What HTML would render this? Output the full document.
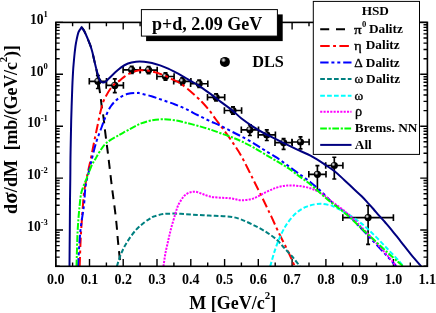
<!DOCTYPE html>
<html><head><meta charset="utf-8"><title>chart</title>
<style>
html,body{margin:0;padding:0;background:#fff;}
body{width:436px;height:313px;position:relative;overflow:hidden;font-family:"Liberation Serif",serif;font-weight:bold;color:#000;}
.t{position:absolute;white-space:nowrap;line-height:1;}
.c{transform:translateX(-50%);}
.sup{font-size:8.6px;position:relative;top:-6.6px;left:0px;}
.sup2{font-size:10.8px;position:relative;top:-10px;}
.sup3{font-size:8.5px;position:relative;top:-5.5px;}
.g{font-weight:bold;}
</style></head><body>
<svg width="436" height="313" viewBox="0 0 436 313" style="position:absolute;left:0;top:0">
<defs><clipPath id="cp"><rect x="55.8" y="22.4" width="371.6" height="243.9"/></clipPath>
<radialGradient id="ball" cx="0.36" cy="0.32" r="0.6"><stop offset="0" stop-color="#f4f4f4"/><stop offset="0.14" stop-color="#b8b8b8"/><stop offset="0.42" stop-color="#000"/><stop offset="1" stop-color="#000"/></radialGradient><radialGradient id="ball2" cx="0.36" cy="0.34" r="0.5"><stop offset="0" stop-color="#eee"/><stop offset="0.22" stop-color="#aaa"/><stop offset="0.55" stop-color="#000"/><stop offset="1" stop-color="#000"/></radialGradient></defs>
<rect x="0" y="0" width="436" height="313" fill="#fff"/>
<path d="M55.7 266.3v-7.2M55.7 22.4v7.2M72.6 266.3v-3.9M72.6 22.4v3.9M89.5 266.3v-7.2M89.5 22.4v7.2M106.4 266.3v-3.9M106.4 22.4v3.9M123.2 266.3v-7.2M123.2 22.4v7.2M140.1 266.3v-3.9M140.1 22.4v3.9M157.0 266.3v-7.2M157.0 22.4v7.2M173.9 266.3v-3.9M173.9 22.4v3.9M190.8 266.3v-7.2M190.8 22.4v7.2M207.7 266.3v-3.9M207.7 22.4v3.9M224.6 266.3v-7.2M224.6 22.4v7.2M241.4 266.3v-3.9M241.4 22.4v3.9M258.3 266.3v-7.2M258.3 22.4v7.2M275.2 266.3v-3.9M275.2 22.4v3.9M292.1 266.3v-7.2M292.1 22.4v7.2M309.0 266.3v-3.9M309.0 22.4v3.9M325.9 266.3v-7.2M325.9 22.4v7.2M342.7 266.3v-3.9M342.7 22.4v3.9M359.6 266.3v-7.2M359.6 22.4v7.2M376.5 266.3v-3.9M376.5 22.4v3.9M393.4 266.3v-7.2M393.4 22.4v7.2M410.3 266.3v-3.9M410.3 22.4v3.9M427.2 266.3v-7.2M427.2 22.4v7.2M55.8 266.3h3.9M427.4 266.3h-3.9M55.8 257.1h3.9M427.4 257.1h-3.9M55.8 250.7h3.9M427.4 250.7h-3.9M55.8 245.6h3.9M427.4 245.6h-3.9M55.8 241.5h3.9M427.4 241.5h-3.9M55.8 238.0h3.9M427.4 238.0h-3.9M55.8 235.0h3.9M427.4 235.0h-3.9M55.8 232.4h3.9M427.4 232.4h-3.9M55.8 230.0h7.2M427.4 230.0h-7.2M55.8 214.4h3.9M427.4 214.4h-3.9M55.8 205.2h3.9M427.4 205.2h-3.9M55.8 198.8h3.9M427.4 198.8h-3.9M55.8 193.7h3.9M427.4 193.7h-3.9M55.8 189.6h3.9M427.4 189.6h-3.9M55.8 186.1h3.9M427.4 186.1h-3.9M55.8 183.1h3.9M427.4 183.1h-3.9M55.8 180.5h3.9M427.4 180.5h-3.9M55.8 178.1h7.2M427.4 178.1h-7.2M55.8 162.5h3.9M427.4 162.5h-3.9M55.8 153.3h3.9M427.4 153.3h-3.9M55.8 146.9h3.9M427.4 146.9h-3.9M55.8 141.8h3.9M427.4 141.8h-3.9M55.8 137.7h3.9M427.4 137.7h-3.9M55.8 134.2h3.9M427.4 134.2h-3.9M55.8 131.2h3.9M427.4 131.2h-3.9M55.8 128.6h3.9M427.4 128.6h-3.9M55.8 126.2h7.2M427.4 126.2h-7.2M55.8 110.6h3.9M427.4 110.6h-3.9M55.8 101.4h3.9M427.4 101.4h-3.9M55.8 95.0h3.9M427.4 95.0h-3.9M55.8 89.9h3.9M427.4 89.9h-3.9M55.8 85.8h3.9M427.4 85.8h-3.9M55.8 82.3h3.9M427.4 82.3h-3.9M55.8 79.3h3.9M427.4 79.3h-3.9M55.8 76.7h3.9M427.4 76.7h-3.9M55.8 74.3h7.2M427.4 74.3h-7.2M55.8 58.7h3.9M427.4 58.7h-3.9M55.8 49.5h3.9M427.4 49.5h-3.9M55.8 43.1h3.9M427.4 43.1h-3.9M55.8 38.0h3.9M427.4 38.0h-3.9M55.8 33.9h3.9M427.4 33.9h-3.9M55.8 30.4h3.9M427.4 30.4h-3.9M55.8 27.4h3.9M427.4 27.4h-3.9M55.8 24.8h3.9M427.4 24.8h-3.9M55.8 22.4h7.2M427.4 22.4h-7.2" stroke="#000" stroke-width="1.4" fill="none"/>
<g clip-path="url(#cp)">
<path d="M89.3 81.3H106.5M89.3 78.0v6.6M106.5 78.0v6.6M97.9 75.5V88.5M95.9 75.5h4M95.9 88.5h4M106.2 85.4H123.4M106.2 82.1v6.6M123.4 82.1v6.6M114.8 78.9V92.6M112.8 78.9h4M112.8 92.6h4M123.1 69.9H140.3M123.1 66.6v6.6M140.3 66.6v6.6M131.7 66.3V73.5M129.7 66.3h4M129.7 73.5h4M140.0 70.1H157.2M140.0 66.8v6.6M157.2 66.8v6.6M148.6 66.5V73.7M146.6 66.5h4M146.6 73.7h4M156.9 76.5H174.1M156.9 73.2v6.6M174.1 73.2v6.6M165.5 72.9V80.1M163.5 72.9h4M163.5 80.1h4M173.7 81.3H190.9M173.7 78.0v6.6M190.9 78.0v6.6M182.3 77.7V84.9M180.3 77.7h4M180.3 84.9h4M190.6 83.7H207.8M190.6 80.4v6.6M207.8 80.4v6.6M199.2 80.1V87.3M197.2 80.1h4M197.2 87.3h4M207.5 97.3H224.7M207.5 94.0v6.6M224.7 94.0v6.6M216.1 93.7V100.9M214.1 93.7h4M214.1 100.9h4M224.4 110.5H241.6M224.4 107.2v6.6M241.6 107.2v6.6M233.0 106.9V114.1M231.0 106.9h4M231.0 114.1h4M241.3 129.8H258.5M241.3 126.5v6.6M258.5 126.5v6.6M249.9 124.8V135.5M247.9 124.8h4M247.9 135.5h4M258.2 134.9H275.4M258.2 131.6v6.6M275.4 131.6v6.6M266.8 129.8V140.5M264.8 129.8h4M264.8 140.5h4M275.0 142.6H292.2M275.0 139.3v6.6M292.2 139.3v6.6M283.6 138.5V149.3M281.6 138.5h4M281.6 149.3h4M291.9 142.0H309.1M291.9 138.7v6.6M309.1 138.7v6.6M300.5 136.9V148.9M298.5 136.9h4M298.5 148.9h4M308.8 174.3H326.0M308.8 171.0v6.6M326.0 171.0v6.6M317.4 165.6V190.0M315.4 165.6h4M315.4 190.0h4M325.7 165.5H342.9M325.7 162.2v6.6M342.9 162.2v6.6M334.3 157.2V179.0M332.3 157.2h4M332.3 179.0h4M342.8 217.6H393.4M342.8 214.3v6.6M393.4 214.3v6.6M368.1 205.5V244.3M366.1 205.5h4M366.1 244.3h4" stroke="#000" stroke-width="1.65" fill="none"/>
<circle cx="97.9" cy="81.3" r="3.6" fill="url(#ball2)"/>
<circle cx="114.8" cy="85.4" r="3.6" fill="url(#ball2)"/>
<circle cx="131.7" cy="69.9" r="3.6" fill="url(#ball2)"/>
<circle cx="148.6" cy="70.1" r="3.6" fill="url(#ball2)"/>
<circle cx="165.5" cy="76.5" r="3.6" fill="url(#ball2)"/>
<circle cx="182.3" cy="81.3" r="3.6" fill="url(#ball2)"/>
<circle cx="199.2" cy="83.7" r="3.6" fill="url(#ball2)"/>
<circle cx="216.1" cy="97.3" r="3.6" fill="url(#ball2)"/>
<circle cx="233.0" cy="110.5" r="3.6" fill="url(#ball2)"/>
<circle cx="249.9" cy="129.8" r="3.6" fill="url(#ball2)"/>
<circle cx="266.8" cy="134.9" r="3.6" fill="url(#ball2)"/>
<circle cx="283.6" cy="142.6" r="3.6" fill="url(#ball2)"/>
<circle cx="300.5" cy="142.0" r="3.6" fill="url(#ball2)"/>
<circle cx="317.4" cy="174.3" r="3.6" fill="url(#ball2)"/>
<circle cx="334.3" cy="165.5" r="3.6" fill="url(#ball2)"/>
<circle cx="368.1" cy="217.6" r="3.6" fill="url(#ball2)"/>
<path d="M81.4 26.8 C81.8 27.4 83.2 29.0 84.0 30.5 C84.8 32.0 85.6 34.0 86.4 35.7 C87.2 37.5 87.9 39.1 88.6 41.0 C89.3 42.9 90.2 44.9 90.8 46.8 C91.4 48.7 91.9 50.4 92.4 52.3 C92.9 54.2 93.3 56.2 93.7 58.0 C94.1 59.8 94.5 61.4 94.9 63.2 C95.3 65.0 95.8 66.6 96.2 68.6 C96.6 70.6 97.0 72.8 97.4 75.0 C97.8 77.2 98.1 79.5 98.5 82.0 C98.9 84.5 99.2 87.3 99.6 90.0 C100.0 92.7 100.3 95.2 100.7 98.0 C101.1 100.8 101.4 104.3 101.8 107.0 C102.2 109.7 102.6 111.6 103.0 114.0 C103.4 116.4 103.7 119.2 104.0 121.5 C104.3 123.8 104.1 123.2 104.7 128.0 C105.3 132.8 106.5 142.2 107.5 150.0 C108.5 157.8 109.7 168.3 110.5 175.0 C111.3 181.7 111.7 185.3 112.3 190.0 C112.9 194.7 113.4 197.9 114.1 203.4 C114.8 208.9 115.8 216.7 116.4 223.0 C117.1 229.3 117.4 235.3 118.0 241.4 C118.6 247.5 119.5 255.7 119.9 259.8 C120.3 263.9 120.4 265.2 120.5 266.3" stroke="#000" stroke-width="2.0" fill="none" stroke-linejoin="miter" stroke-miterlimit="6" stroke-linecap="butt" stroke-dasharray="9 6.3" stroke-dashoffset="0.8"/>
<path d="M79.7 266.3 C79.9 261.7 80.2 248.1 80.7 238.6 C81.2 229.1 82.0 217.6 82.6 209.5 C83.2 201.4 83.6 195.8 84.4 190.0 C85.2 184.2 86.5 178.8 87.3 175.0 C88.1 171.2 88.5 169.5 89.0 167.0 C89.5 164.5 89.8 164.1 90.6 160.0 C91.4 155.9 92.9 148.0 94.0 142.5 C95.1 137.0 96.2 132.0 97.3 126.8 C98.4 121.6 99.4 115.8 100.6 111.2 C101.8 106.7 102.3 103.6 104.2 99.5 C106.1 95.4 109.4 89.8 112.0 86.6 C114.6 83.4 117.9 82.1 120.0 80.4 C122.1 78.7 122.9 77.7 124.8 76.4 C126.7 75.1 128.8 73.8 131.2 72.8 C133.6 71.8 136.6 70.7 139.3 70.3 C142.0 69.9 144.6 70.3 147.3 70.6 C150.0 70.9 152.6 71.5 155.3 72.3 C158.0 73.0 160.6 74.0 163.3 75.1 C166.0 76.2 168.7 77.5 171.4 78.8 C174.1 80.1 176.7 81.1 179.4 82.8 C182.1 84.5 184.4 86.3 187.4 88.8 C190.4 91.3 195.1 95.5 197.5 97.7 C199.9 99.9 200.1 100.0 202.0 102.0 C203.9 104.0 206.7 107.1 209.0 110.0 C211.3 112.9 213.6 116.4 215.9 119.5 C218.2 122.6 220.1 125.0 222.8 128.7 C225.5 132.4 228.9 136.9 232.0 141.5 C235.1 146.1 238.0 150.1 241.5 156.4 C245.0 162.7 249.6 172.2 253.0 179.1 C256.4 185.9 259.7 192.4 262.2 197.5 C264.7 202.6 266.4 206.3 267.9 209.5 C269.4 212.7 269.4 212.4 271.4 216.6 C273.3 220.8 276.8 228.7 279.6 234.5 C282.4 240.3 285.7 246.4 288.2 251.7 C290.7 257.0 293.7 263.9 294.8 266.3" stroke="#f00" stroke-width="2.0" fill="none" stroke-linejoin="miter" stroke-miterlimit="6" stroke-linecap="butt" stroke-dasharray="9.5 3.4 2.9 3.4" stroke-dashoffset="0.0"/>
<path d="M78.0 266.3 C78.4 260.6 79.3 242.0 80.3 231.8 C81.3 221.6 83.1 212.6 84.0 205.0 C84.9 197.4 84.6 192.5 85.6 186.0 C86.6 179.5 88.5 173.2 90.2 166.0 C91.9 158.8 94.1 149.5 96.0 143.0 C97.9 136.5 100.2 131.2 101.7 127.0 C103.2 122.8 103.7 121.0 105.2 117.5 C106.8 114.0 108.7 109.2 111.0 106.0 C113.3 102.8 116.1 100.0 119.0 98.0 C121.9 96.0 125.1 94.6 128.2 93.8 C131.3 93.0 135.4 93.0 137.4 92.9 C139.4 92.8 137.7 92.7 140.0 93.3 C142.3 93.9 147.7 95.1 151.5 96.3 C155.3 97.5 159.2 98.9 163.0 100.2 C166.8 101.5 170.7 102.7 174.5 104.2 C178.3 105.7 182.2 107.3 186.0 109.1 C189.8 110.9 193.7 113.1 197.5 115.0 C201.3 116.9 205.2 118.9 209.0 120.7 C212.8 122.5 216.7 123.9 220.5 125.7 C224.3 127.5 228.1 129.7 232.0 131.7 C235.9 133.7 239.9 135.6 243.8 137.7 C247.7 139.8 251.9 142.3 255.3 144.4 C258.8 146.5 261.1 148.1 264.5 150.2 C267.9 152.3 272.2 154.7 276.0 157.2 C279.8 159.7 283.7 162.6 287.5 165.4 C291.3 168.2 295.2 171.0 299.0 173.8 C302.8 176.6 306.7 179.1 310.5 182.2 C314.3 185.3 318.8 189.2 322.0 192.2 C325.2 195.2 328.1 198.5 330.0 200.4 C331.9 202.3 330.6 201.1 333.4 203.4 C336.2 205.7 342.9 210.4 346.9 214.0 C350.9 217.6 353.1 220.0 357.6 224.7 C362.1 229.3 368.9 236.6 373.9 241.9 C378.9 247.2 383.9 252.6 387.6 256.7 C391.4 260.8 394.9 264.7 396.4 266.3" stroke="#00f" stroke-width="2.0" fill="none" stroke-linejoin="miter" stroke-miterlimit="6" stroke-linecap="butt" stroke-dasharray="8.4 2.8 3 2.9 3 2.9" stroke-dashoffset="0.0"/>
<path d="M116.9 266.3 C117.6 264.2 119.3 258.0 121.0 254.0 C122.7 250.0 124.3 246.5 126.8 242.5 C129.3 238.5 132.9 233.3 136.0 229.9 C139.1 226.5 142.9 223.7 145.2 221.8 C147.5 219.9 148.6 219.5 150.0 218.6 C151.4 217.7 151.6 217.2 153.8 216.5 C156.0 215.8 159.6 214.6 163.0 214.1 C166.4 213.6 170.7 213.6 174.5 213.6 C178.3 213.6 182.2 214.0 186.0 214.2 C189.8 214.4 193.7 214.7 197.5 214.9 C201.3 215.1 205.2 215.3 209.0 215.5 C212.8 215.7 216.7 215.9 220.5 216.1 C224.3 216.3 228.5 216.3 232.0 216.9 C235.5 217.5 238.0 218.3 241.5 219.6 C245.0 220.9 249.2 222.9 253.0 224.8 C256.8 226.7 260.7 228.6 264.5 231.0 C268.3 233.4 272.5 236.0 276.0 239.1 C279.5 242.2 282.6 246.2 285.6 249.4 C288.6 252.7 291.6 255.8 294.0 258.6 C296.4 261.4 298.8 265.0 299.8 266.3" stroke="#008080" stroke-width="2.0" fill="none" stroke-linejoin="miter" stroke-miterlimit="6" stroke-linecap="butt" stroke-dasharray="4.7 2.2" stroke-dashoffset="0.0"/>
<path d="M270.2 266.3 C271.0 263.7 273.1 255.7 274.8 250.6 C276.5 245.5 278.5 240.2 280.6 235.6 C282.7 231.0 284.8 226.8 287.5 223.0 C290.2 219.2 293.6 215.3 296.7 212.6 C299.8 209.9 302.8 208.3 305.9 206.9 C308.9 205.5 312.3 204.8 315.0 204.3 C317.7 203.8 319.5 203.7 322.0 203.8 C324.5 204.0 328.1 204.8 330.0 205.2 C331.9 205.6 330.6 205.0 333.4 206.4 C336.2 207.8 342.4 210.9 346.9 213.6 C351.4 216.3 355.8 219.1 360.3 222.6 C364.8 226.1 369.2 230.2 373.7 234.6 C378.2 239.0 383.2 244.4 387.4 248.8 C391.6 253.2 396.4 258.1 399.0 261.0 C401.6 263.9 402.6 265.4 403.3 266.3" stroke="#0ff" stroke-width="2.0" fill="none" stroke-linejoin="miter" stroke-miterlimit="6" stroke-linecap="butt" stroke-dasharray="4.7 2.2" stroke-dashoffset="0.0"/>
<path d="M163.5 266.3 C163.8 264.2 164.5 258.4 165.3 254.0 C166.1 249.6 167.3 244.5 168.3 240.1 C169.3 235.7 170.2 231.8 171.3 227.5 C172.5 223.2 174.2 217.7 175.2 214.3 C176.2 210.9 176.7 209.1 177.4 207.2 C178.1 205.3 178.6 204.4 179.3 203.1 C180.0 201.8 180.8 200.6 181.6 199.4 C182.4 198.2 183.0 197.1 183.9 196.2 C184.8 195.2 186.0 194.4 187.1 193.7 C188.2 193.0 189.3 192.5 190.4 192.2 C191.5 191.9 192.5 191.7 193.6 191.7 C194.7 191.7 195.7 191.7 196.9 192.0 C198.1 192.3 199.4 192.9 200.6 193.3 C201.8 193.8 203.1 194.3 204.3 194.7 C205.5 195.1 206.4 195.5 208.0 195.9 C209.6 196.3 211.1 196.9 213.6 197.2 C216.1 197.5 219.7 197.6 222.8 197.8 C225.9 198.0 228.9 198.1 232.0 198.5 C235.1 198.9 238.0 200.2 241.5 200.2 C245.0 200.2 249.2 199.8 253.0 198.6 C256.8 197.4 260.7 194.7 264.5 192.9 C268.3 191.1 272.2 189.0 276.0 187.8 C279.8 186.6 283.7 185.8 287.5 185.5 C291.3 185.2 295.2 185.5 299.0 186.0 C302.8 186.5 306.7 187.0 310.5 188.3 C314.3 189.6 318.8 191.6 322.0 193.6 C325.2 195.6 328.1 198.8 330.0 200.3 C331.9 201.8 330.6 200.6 333.4 202.7 C336.2 204.8 342.9 209.6 346.9 213.0 C350.9 216.4 353.1 218.5 357.6 223.1 C362.1 227.7 368.9 235.0 373.9 240.4 C378.9 245.8 383.9 251.4 387.6 255.7 C391.4 260.0 394.9 264.5 396.4 266.3" stroke="#f0f" stroke-width="2.0" fill="none" stroke-linejoin="miter" stroke-miterlimit="6" stroke-linecap="butt" stroke-dasharray="2.1 1.25" stroke-dashoffset="0.0"/>
<path d="M76.5 266.3 C76.7 260.6 77.1 241.7 77.6 231.8 C78.1 221.9 78.8 213.6 79.5 207.0 C80.2 200.4 80.3 196.8 81.5 192.0 C82.7 187.2 85.1 182.3 86.8 178.0 C88.5 173.7 90.0 169.2 91.4 166.0 C92.8 162.8 94.1 161.3 95.4 159.0 C96.7 156.7 97.6 154.7 99.4 152.0 C101.2 149.3 103.0 145.8 106.3 143.0 C109.6 140.2 115.7 137.0 119.0 135.0 C122.3 133.0 123.5 132.6 126.0 131.2 C128.5 129.8 131.5 128.1 134.0 126.8 C136.5 125.5 138.2 124.5 141.1 123.4 C144.0 122.3 147.8 121.1 151.5 120.4 C155.2 119.7 159.2 119.3 163.0 119.3 C166.8 119.3 170.7 119.6 174.5 120.2 C178.3 120.8 182.2 121.9 186.0 122.8 C189.8 123.7 193.7 124.7 197.5 125.7 C201.3 126.8 205.2 127.8 209.0 129.1 C212.8 130.3 216.7 131.8 220.5 133.2 C224.3 134.6 228.5 136.0 232.0 137.3 C235.5 138.7 238.0 139.7 241.5 141.3 C245.0 143.0 249.2 145.1 253.0 147.2 C256.8 149.3 260.7 151.7 264.5 154.0 C268.3 156.3 272.2 158.5 276.0 160.8 C279.8 163.1 283.7 165.1 287.5 167.7 C291.3 170.2 295.2 173.3 299.0 176.1 C302.8 178.9 306.7 181.4 310.5 184.5 C314.3 187.6 318.8 191.8 322.0 194.6 C325.2 197.4 328.1 200.0 330.0 201.6 C331.9 203.2 330.6 201.9 333.4 204.1 C336.2 206.3 342.4 210.9 346.9 214.8 C351.4 218.7 355.8 223.2 360.3 227.3 C364.8 231.4 369.2 235.4 373.7 239.6 C378.2 243.8 383.3 248.6 387.4 252.4 C391.5 256.2 395.8 259.9 398.4 262.2 C401.0 264.5 402.5 265.6 403.3 266.3" stroke="#0f0" stroke-width="2.0" fill="none" stroke-linejoin="miter" stroke-miterlimit="6" stroke-linecap="butt" stroke-dasharray="6.7 1.7 2.2 1.5" stroke-dashoffset="0.0"/>
<path d="M69.5 266.3 C69.5 260.2 69.7 241.1 69.8 230.0 C69.9 218.9 69.9 208.7 70.0 200.0 C70.1 191.3 70.2 186.3 70.3 178.0 C70.4 169.7 70.4 159.7 70.6 150.0 C70.8 140.3 70.9 130.5 71.2 120.0 C71.5 109.5 72.0 94.9 72.3 87.0 C72.6 79.1 72.8 76.5 73.0 72.5 C73.2 68.5 73.4 66.2 73.7 63.0 C74.0 59.8 74.2 57.0 74.6 53.5 C75.0 50.0 75.4 45.8 76.1 42.3 C76.8 38.8 77.6 34.7 78.5 32.2 C79.4 29.7 80.9 28.3 81.4 27.5 L81.4 27.5 C81.8 28.0 83.2 29.3 84.0 30.7 C84.8 32.1 85.6 34.0 86.4 35.7 C87.2 37.4 87.9 39.1 88.6 41.0 C89.3 42.9 90.2 44.9 90.8 46.8 C91.4 48.7 91.9 50.4 92.4 52.3 C92.9 54.2 93.3 56.2 93.7 58.0 C94.1 59.8 94.5 61.4 94.9 63.2 C95.3 65.0 95.8 66.9 96.2 68.6 C96.7 70.3 97.1 72.1 97.6 73.6 C98.0 75.1 98.5 76.5 98.9 77.7 C99.3 78.9 99.7 79.8 100.1 80.5 C100.5 81.2 100.7 81.6 101.2 81.9 C101.7 82.2 102.3 82.4 103.0 82.4 C103.7 82.4 104.4 82.5 105.3 82.0 C106.2 81.5 106.8 80.5 108.3 79.1 C109.8 77.7 111.9 75.4 114.0 73.5 C116.1 71.6 118.5 69.3 120.8 67.6 C123.1 65.9 125.5 64.5 128.0 63.5 C130.5 62.5 133.3 62.0 136.0 61.7 C138.7 61.4 141.3 61.5 144.0 61.7 C146.7 61.9 149.3 62.4 152.0 63.0 C154.7 63.6 157.4 64.5 160.1 65.4 C162.8 66.3 165.5 67.4 168.2 68.6 C170.9 69.8 173.5 71.3 176.2 72.7 C178.9 74.1 181.9 75.9 184.2 77.2 C186.5 78.5 187.8 79.4 190.0 80.7 C192.2 82.0 194.3 82.8 197.5 84.8 C200.7 86.8 205.2 90.1 209.0 92.9 C212.8 95.7 216.7 98.7 220.5 101.6 C224.3 104.5 228.5 107.3 232.0 110.1 C235.5 112.9 238.0 115.8 241.5 118.5 C245.0 121.2 249.2 124.1 253.0 126.6 C256.8 129.1 260.7 131.4 264.5 133.5 C268.3 135.6 272.2 137.3 276.0 139.2 C279.8 141.1 283.7 143.0 287.5 144.9 C291.3 146.8 295.2 148.6 299.0 150.4 C302.8 152.2 306.7 153.6 310.5 155.6 C314.3 157.6 319.6 161.1 322.0 162.6 C324.4 164.1 322.9 163.1 325.0 164.6 C327.1 166.1 331.4 168.8 334.6 171.3 C337.8 173.9 341.0 177.0 344.2 179.9 C347.4 182.8 350.9 186.3 353.8 189.0 C356.7 191.7 359.4 194.0 361.7 196.3 C364.0 198.6 365.7 200.5 367.6 202.6 C369.6 204.7 371.5 206.8 373.4 209.0 C375.3 211.2 377.2 213.5 379.1 215.7 C381.0 217.9 383.0 219.8 384.9 222.0 C386.8 224.2 388.0 225.5 390.7 228.8 C393.4 232.1 397.5 237.4 401.0 241.8 C404.5 246.2 408.1 251.0 411.5 255.1 C414.9 259.2 419.6 264.4 421.2 266.3" stroke="#000080" stroke-width="2.0" fill="none" stroke-linejoin="miter" stroke-miterlimit="6" stroke-linecap="butt"/>
</g>
<rect x="55.8" y="22.4" width="371.6" height="243.9" fill="none" stroke="#000" stroke-width="1.6"/>
<rect x="146.1" y="14.4" width="136.6" height="26.7" fill="#000"/>
<rect x="141.4" y="9.6" width="136" height="26.5" fill="#fff" stroke="#000" stroke-width="1"/>
<circle cx="224.9" cy="61.9" r="5" fill="url(#ball)"/>
<rect x="313.3" y="1.4" width="106.2" height="153" fill="#fff" stroke="#000" stroke-width="1"/>
<path d="M320.2 29.3H351.5" stroke="#000" stroke-width="2" fill="none" stroke-dasharray="9 6.8"/>
<path d="M320.2 45.9H351.5" stroke="#f00" stroke-width="2" fill="none" stroke-dasharray="9.5 3.4 2.9 3.4"/>
<path d="M320.2 62.4H351.5" stroke="#00f" stroke-width="2" fill="none" stroke-dasharray="8.4 2.8 3 2.9 3 2.9"/>
<path d="M320.2 79.1H351.5" stroke="#008080" stroke-width="2" fill="none" stroke-dasharray="4.7 2.2"/>
<path d="M320.2 95.7H351.5" stroke="#0ff" stroke-width="2" fill="none" stroke-dasharray="4.7 2.2"/>
<path d="M320.2 111.8H351.5" stroke="#f0f" stroke-width="2" fill="none" stroke-dasharray="2.1 1.25"/>
<path d="M320.2 128.4H351.5" stroke="#0f0" stroke-width="2" fill="none" stroke-dasharray="6.7 1.7 2.2 1.5"/>
<path d="M320.2 144.9H351.5" stroke="#000080" stroke-width="2" fill="none"/>
</svg>
<div style="position:absolute;left:0;top:0;width:436px;height:313px;will-change:transform;opacity:0.999">
<div class="t c" style="left:55.7px;top:273.3px;font-size:14.0px;">0.0</div>
<div class="t c" style="left:89.5px;top:273.3px;font-size:14.0px;">0.1</div>
<div class="t c" style="left:123.2px;top:273.3px;font-size:14.0px;">0.2</div>
<div class="t c" style="left:157.0px;top:273.3px;font-size:14.0px;">0.3</div>
<div class="t c" style="left:190.8px;top:273.3px;font-size:14.0px;">0.4</div>
<div class="t c" style="left:224.6px;top:273.3px;font-size:14.0px;">0.5</div>
<div class="t c" style="left:258.3px;top:273.3px;font-size:14.0px;">0.6</div>
<div class="t c" style="left:292.1px;top:273.3px;font-size:14.0px;">0.7</div>
<div class="t c" style="left:325.9px;top:273.3px;font-size:14.0px;">0.8</div>
<div class="t c" style="left:359.6px;top:273.3px;font-size:14.0px;">0.9</div>
<div class="t c" style="left:393.4px;top:273.3px;font-size:14.0px;">1.0</div>
<div class="t c" style="left:427.2px;top:273.3px;font-size:14.0px;">1.1</div>
<div class="t" style="right:388.1px;top:12.6px;font-size:13.6px">10<span class="sup">1</span></div>
<div class="t" style="right:388.1px;top:64.5px;font-size:13.6px">10<span class="sup">0</span></div>
<div class="t" style="right:388.1px;top:116.4px;font-size:13.6px">10<span class="sup">-1</span></div>
<div class="t" style="right:388.1px;top:168.3px;font-size:13.6px">10<span class="sup">-2</span></div>
<div class="t" style="right:388.1px;top:220.2px;font-size:13.6px">10<span class="sup">-3</span></div>
<div class="t c" style="left:232.7px;top:294.3px;font-size:18.0px;">M [GeV/c<span class="sup2">2</span>]</div>
<div class="t" id="yt" style="left:20.1px;top:213.7px;font-size:18px;transform-origin:0 0;transform:rotate(-90deg) translateY(-100%);line-height:1"><span style="letter-spacing:0.15px">d<span class="g" style="font-size:21px;line-height:0">σ</span>/dM</span><span style="display:inline-block;width:9.5px"></span><span style="letter-spacing:-0.2px">[mb/(GeV/c<span class="sup2">2</span>)]</span></div>
<div class="t" style="left:152.0px;top:14.5px;font-size:18.0px;">p+d, 2.09 GeV</div>
<div class="t" style="left:252.2px;top:54.1px;font-size:16.3px;">DLS</div>
<div class="t c" style="left:375.3px;top:4.1px;font-size:13.3px;">HSD</div>
<div class="t" style="left:354.0px;top:22.9px;font-size:13.6px;font-weight:normal;-webkit-text-stroke:0.35px #000;transform-origin:0 11.39px;transform:scale(1.12,0.90)">π</div>
<div class="t" style="left:353.6px;top:38.7px;font-size:13.2px;font-weight:normal;-webkit-text-stroke:0.35px #000;transform-origin:0 11.05px;transform:scale(1.12,0.95)">η</div>
<div class="t" style="left:354.3px;top:55.8px;font-size:13.2px;font-weight:normal;-webkit-text-stroke:0.35px #000;transform-origin:0 11.05px;transform:scale(1.00,1.00)">Δ</div>
<div class="t" style="left:354.6px;top:71.9px;font-size:13.2px;font-weight:normal;-webkit-text-stroke:0.35px #000;transform-origin:0 11.05px;transform:scale(1.00,1.00)">ω</div>
<div class="t" style="left:354.6px;top:88.6px;font-size:13.2px;font-weight:normal;-webkit-text-stroke:0.35px #000;transform-origin:0 11.05px;transform:scale(1.00,1.00)">ω</div>
<div class="t" style="left:354.8px;top:104.5px;font-size:13.6px;font-weight:normal;-webkit-text-stroke:0.35px #000;transform-origin:0 11.39px;transform:scale(1.05,1.00)">ρ</div>
<div class="t" style="left:362.0px;top:20.4px;font-size:8.6px;">0</div>
<div class="t" style="left:368.9px;top:22.3px;font-size:13.3px;">Dalitz</div>
<div class="t" style="left:365.7px;top:37.9px;font-size:13.3px;">Dalitz</div>
<div class="t" style="left:365.8px;top:55.8px;font-size:13.3px;">Dalitz</div>
<div class="t" style="left:366.1px;top:71.9px;font-size:13.3px;">Dalitz</div>
<div class="t" style="left:354.8px;top:121.3px;font-size:13.3px;">Brems. NN</div>
<div class="t" style="left:354.8px;top:137.8px;font-size:13.3px;">All</div>
</div>
</body></html>
